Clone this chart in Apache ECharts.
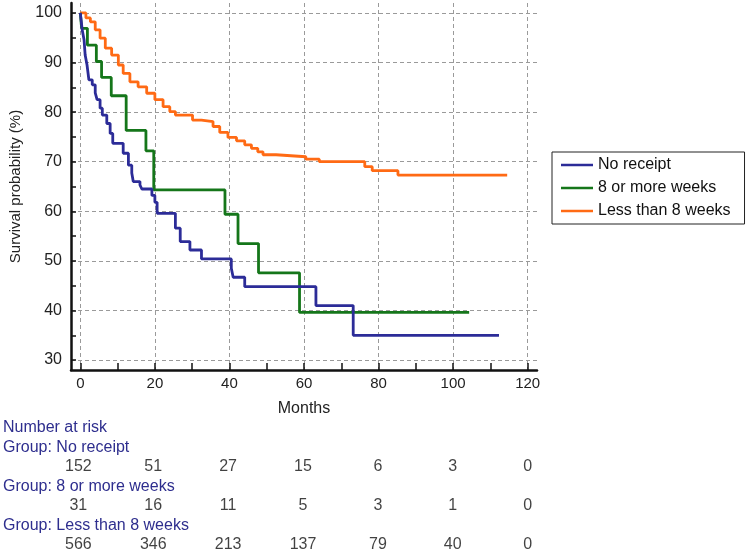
<!DOCTYPE html>
<html><head><meta charset="utf-8">
<script src="https://cdn.jsdelivr.net/npm/echarts@6/dist/echarts.min.js"></script>
<style>html,body{margin:0;padding:0;background:#fff}#c{width:750px;height:554px}</style>
</head><body><div id="c"></div>
<script>
// ---- data ----
const groupNames = ['No receipt', '8 or more weeks', 'Less than 8 weeks'];
const noReceiptMonths = [0, 0.5, 1.0, 1.3, 1.8, 2.3, 3.2, 4.0, 4.5, 5.3, 5.9, 7.1, 8.0, 8.7, 11.5, 12.9, 13.8, 14.2, 16.0, 16.5, 19.2, 20.0, 20.6, 25.5, 26.8, 29.4, 32.5, 40.5, 41.0, 44.1, 63.2, 73.2, 112.3];
const noReceiptSurv   = [100, 96.6, 94.6, 91.5, 89.5, 86.5, 85.5, 83.9, 82.5, 80.8, 79.4, 77.7, 75.7, 73.7, 71.7, 69.3, 67.7, 66.0, 65.3, 64.5, 63.2, 61.8, 59.6, 56.6, 53.9, 52.2, 50.4, 48.5, 46.7, 44.8, 41.0, 35.0, 35.0];
const eightPlusMonths = [0, 0.35, 1.9, 4.3, 5.7, 8.3, 12.3, 17.6, 19.7, 38.8, 42.3, 47.8, 58.8, 104.3];
const eightPlusSurv   = [100, 96.9, 93.5, 90.2, 87.0, 83.3, 76.3, 72.2, 64.3, 59.4, 53.5, 47.6, 39.6, 39.6];
const lessEightMonths = [0, 1.5, 2.7, 4.0, 5.3, 6.7, 8.4, 10.2, 11.5, 13.3, 15.5, 17.8, 20.0, 22.2, 24.0, 25.5, 30.1, 32.5, 35.6, 37.4, 39.6, 41.9, 44.1, 45.9, 47.6, 49.0, 52.5, 60.5, 64.1, 76.3, 78.3, 85.2, 114.5];
const lessEightSurv   = [100, 99.0, 98.2, 96.6, 94.9, 92.9, 91.5, 89.5, 87.8, 86.1, 85.1, 83.8, 82.5, 81.1, 80.1, 79.4, 78.4, 78.1, 77.1, 75.9, 74.9, 74.2, 73.4, 72.7, 72.0, 71.4, 71.0, 70.5, 70.0, 69.0, 68.2, 67.3, 67.3];

const riskTimes = [0, 20, 40, 60, 80, 100, 120];
const riskNoReceipt = [152, 51, 27, 15, 6, 3, 0];
const riskEightPlus = [31, 16, 11, 5, 3, 1, 0];
const riskLessEight = [566, 346, 213, 137, 79, 40, 0];

const xLabelTicks = [0, 20, 40, 60, 80, 100, 120];
const xMinorTicks = [0, 10, 20, 30, 40, 50, 60, 70, 80, 90, 100, 110, 120];
const yLabelTicks = [30, 40, 50, 60, 70, 80, 90, 100];
const yMinorTicks = [30, 35, 40, 45, 50, 55, 60, 65, 70, 75, 80, 85, 90, 95, 100];

// ---- chart ----
const colors = ['#2c2c98', '#15761a', '#ff6a14'];
const FONT = 'Liberation Sans, Arial, sans-serif';
const zip = (a, b) => a.map((v, i) => [v, b[i]]);
const curves = [zip(noReceiptMonths, noReceiptSurv), zip(eightPlusMonths, eightPlusSurv), zip(lessEightMonths, lessEightSurv)];
const riskRows = [riskNoReceipt, riskEightPlus, riskLessEight];

const X_MIN = -2.5, X_MAX = 122.5, Y_MIN = 28, Y_MAX = 102;
const dash = { color: '#9a9a9a', width: 1, type: [4, 3] };

const chart = echarts.init(document.getElementById('c'));
const option = {
  animation: false,
  textStyle: { fontFamily: FONT },
  grid: [
    { left: 69, right: 213, top: 3, bottom: 184 },
    { left: 69, right: 213, top: 447.5, bottom: 0 }
  ],
  xAxis: [
    { type: 'value', gridIndex: 0, min: X_MIN, max: X_MAX, position: 'bottom',
      axisLine: { show: true, onZero: false, lineStyle: { color: '#111', width: 2.5 } },
      axisTick: { show: true, inside: true, length: 7, customValues: xMinorTicks, lineStyle: { color: '#111', width: 1.5 } },
      axisLabel: { show: false }, splitLine: { show: false } },
    { type: 'value', gridIndex: 0, min: X_MIN, max: X_MAX, position: 'bottom',
      name: 'Months', nameLocation: 'middle', nameGap: 31,
      nameTextStyle: { fontSize: 16, color: '#222', fontFamily: FONT },
      axisLine: { show: false },
      axisTick: { show: false, customValues: xLabelTicks },
      axisLabel: { show: true, customValues: xLabelTicks, fontSize: 15, color: '#222', margin: 6, fontFamily: FONT },
      splitLine: { show: true, lineStyle: dash } },
    { type: 'value', gridIndex: 1, min: X_MIN, max: X_MAX, show: false }
  ],
  yAxis: [
    { type: 'value', gridIndex: 0, min: Y_MIN, max: Y_MAX, position: 'left',
      axisLine: { show: true, onZero: false, lineStyle: { color: '#111', width: 2.5 } },
      axisTick: { show: true, inside: true, length: 5, customValues: yMinorTicks, lineStyle: { color: '#111', width: 1.5 } },
      axisLabel: { show: false }, splitLine: { show: false } },
    { type: 'value', gridIndex: 0, min: Y_MIN, max: Y_MAX, position: 'left',
      name: 'Survival probability (%)', nameLocation: 'middle', nameGap: 48, nameRotate: 90,
      nameTextStyle: { fontSize: 15, color: '#222', fontFamily: FONT },
      axisLine: { show: false },
      axisTick: { show: false, customValues: yLabelTicks },
      axisLabel: { show: true, customValues: yLabelTicks, fontSize: 16, color: '#222', margin: 9, fontFamily: FONT },
      splitLine: { show: true, lineStyle: dash } },
    { type: 'value', gridIndex: 1, min: 0, max: 2.73, inverse: true, show: false }
  ],
  legend: {
    orient: 'vertical', left: 552, top: 152,
    padding: [5, 14, 5, 9],
    borderColor: '#222', borderWidth: 1, backgroundColor: '#fff',
    itemWidth: 32, itemHeight: 14, itemGap: 7,
    textStyle: { fontSize: 16, color: '#111', fontFamily: FONT },
    data: groupNames.map((n, i) => ({ name: n, icon: 'path://M0,6 L32,6 L32,8.5 L0,8.5 Z', itemStyle: { color: colors[i] } }))
  },
  series: curves.map((d, i) => ({
    name: groupNames[i], type: 'line', step: 'end', xAxisIndex: 0, yAxisIndex: 0,
    data: d, symbol: 'none', color: colors[i],
    lineStyle: { color: colors[i], width: 2.8 }, z: 3 + (2 - i)
  })).concat(riskRows.map((row, r) => ({
    type: 'scatter', xAxisIndex: 2, yAxisIndex: 2, symbolSize: 0, silent: true,
    data: row.map((v, k) => [riskTimes[k], r + 0.5, v]),
    label: { show: true, position: 'inside', formatter: p => String(p.value[2]), fontSize: 16, color: '#111', fontFamily: FONT }
  })))
};
chart.setOption(option);

const hdrColor = '#2e2e8e';
const headers = ['Number at risk', 'Group: No receipt', 'Group: 8 or more weeks', 'Group: Less than 8 weeks'];
const hdrY = [428, 448, 487, 526];
chart.setOption({ graphic: headers.map((t, i) => ({
  type: 'text', left: 3, top: hdrY[i] - 8,
  style: { text: t, fill: hdrColor, font: '16px ' + FONT }
})) });
</script></body></html>
